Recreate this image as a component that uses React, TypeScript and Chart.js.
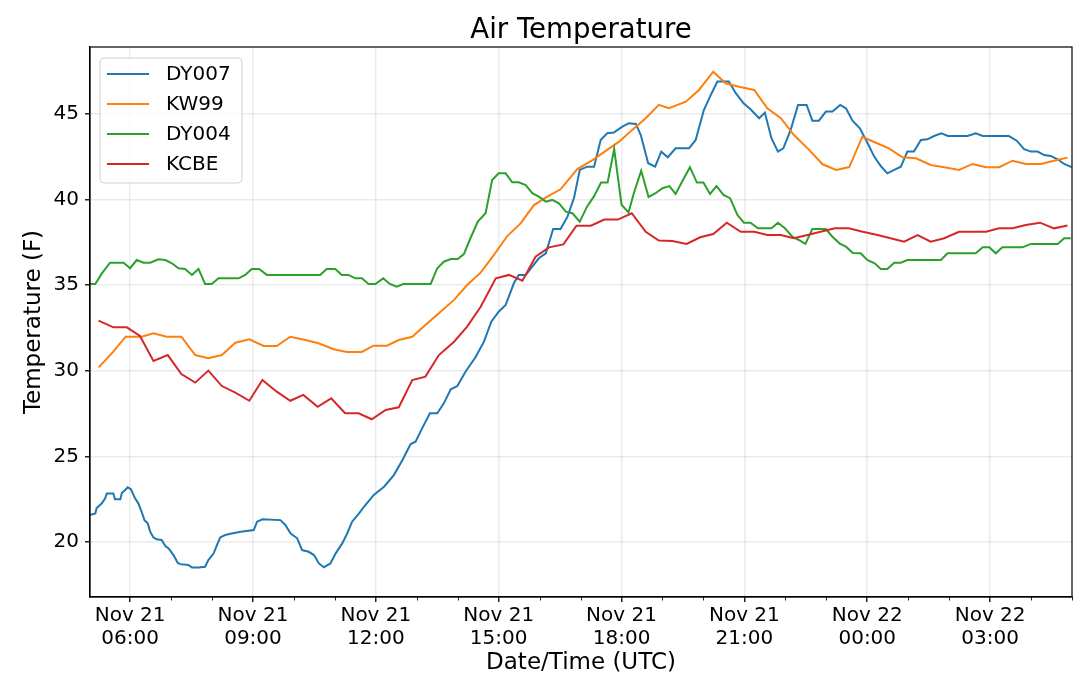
import { useEffect, useRef } from "react"
import { Chart, registerables } from "chart.js"

Chart.register(...registerables)

// horas desde Nov 21 00:00 UTC
const dy007Hours = [
  5.02, 5.15, 5.18, 5.31, 5.39, 5.43, 5.59, 5.63, 5.76, 5.8, 5.88, 5.94, 6.02, 6.12, 6.2, 6.28, 6.35, 6.43,
  6.49, 6.57, 6.65, 6.77, 6.86, 6.94, 7.06, 7.16, 7.22, 7.42, 7.51, 7.67, 7.83, 7.91, 8.04, 8.12, 8.2, 8.32,
  8.48, 8.7, 9.02, 9.1, 9.23, 9.67, 9.79, 9.92, 10.08, 10.2, 10.36, 10.49, 10.61, 10.73, 10.89, 11.02, 11.18,
  11.3, 11.42, 11.59, 11.71, 11.95, 12.2, 12.44, 12.65, 12.85, 12.97, 13.13, 13.32, 13.5, 13.66, 13.83, 13.99,
  14.19, 14.44, 14.64, 14.82, 15.0, 15.17, 15.37, 15.49, 15.66, 15.82, 15.98, 16.15, 16.33, 16.51, 16.68,
  16.84, 16.98, 17.16, 17.33, 17.49, 17.65, 17.81, 18.02, 18.18, 18.35, 18.47, 18.65, 18.82, 18.97, 19.13,
  19.32, 19.65, 19.81, 20.01, 20.18, 20.34, 20.62, 20.79, 20.98, 21.15, 21.36, 21.5, 21.66, 21.82, 21.95,
  22.13, 22.31, 22.52, 22.66, 22.82, 22.99, 23.15, 23.34, 23.48, 23.64, 23.82, 24.01, 24.17, 24.33, 24.49,
  24.66, 24.82, 24.98, 25.14, 25.31, 25.47, 25.63, 25.81, 25.97, 26.45, 26.65, 26.82, 27.46, 27.65, 27.83,
  28.0, 28.16, 28.32, 28.48, 28.65, 28.81, 28.99,
]
const dy007Temps = [
  21.58, 21.67, 21.97, 22.26, 22.55, 22.84, 22.84, 22.5, 22.5, 22.88, 23.04, 23.2, 23.08, 22.55, 22.26, 21.77,
  21.28, 21.09, 20.6, 20.27, 20.16, 20.12, 19.77, 19.63, 19.24, 18.79, 18.71, 18.66, 18.52, 18.52, 18.56,
  18.95, 19.34, 19.82, 20.27, 20.41, 20.5, 20.6, 20.7, 21.19, 21.33, 21.28, 21.0, 20.5, 20.22, 19.53, 19.43,
  19.24, 18.75, 18.52, 18.75, 19.34, 19.92, 20.5, 21.19, 21.67, 22.06, 22.75, 23.23, 23.91, 24.79, 25.72,
  25.86, 26.64, 27.52, 27.52, 28.1, 28.92, 29.11, 29.95, 30.82, 31.7, 32.87, 33.45, 33.84, 35.11, 35.6, 35.6,
  36.08, 36.57, 36.86, 38.28, 38.28, 39.0, 40.1, 41.73, 41.92, 41.92, 43.48, 43.87, 43.91, 44.26, 44.46,
  44.42, 43.77, 42.12, 41.92, 42.8, 42.47, 42.99, 42.99, 43.48, 45.23, 46.11, 46.89, 46.89, 46.21, 45.62,
  45.27, 44.75, 45.08, 43.58, 42.8, 42.99, 44.07, 45.53, 45.53, 44.61, 44.61, 45.14, 45.14, 45.53, 45.33,
  44.61, 44.16, 43.29, 42.51, 41.96, 41.53, 41.73, 41.92, 42.8, 42.8, 43.48, 43.52, 43.71, 43.87, 43.71,
  43.71, 43.87, 43.71, 43.71, 43.44, 42.94, 42.8, 42.8, 42.6, 42.55, 42.35, 42.08, 41.89,
]

const kw99Hours = [
  5.23, 5.59, 5.89, 6.28, 6.57, 6.89, 7.25, 7.59, 7.91, 8.24, 8.57, 8.91, 9.26, 9.58, 9.91, 10.28, 10.6,
  10.97, 11.29, 11.66, 11.94, 12.27, 12.56, 12.89, 13.21, 13.54, 13.91, 14.23, 14.56, 14.88, 15.21, 15.54,
  15.86, 16.19, 16.51, 16.92, 17.29, 17.65, 17.94, 18.26, 18.59, 18.91, 19.16, 19.57, 19.89, 20.24, 20.54,
  20.87, 21.24, 21.56, 21.89, 22.21, 22.58, 22.91, 23.24, 23.56, 23.88, 24.21, 24.53, 24.86, 25.19, 25.55,
  25.88, 26.24, 26.57, 26.9, 27.22, 27.55, 27.87, 28.24, 28.56, 28.89,
]
const kw99Temps = [
  30.2, 31.12, 31.99, 31.99, 32.19, 31.99, 31.99, 30.92, 30.73, 30.92, 31.64, 31.84, 31.45, 31.45, 31.99,
  31.8, 31.61, 31.26, 31.1, 31.1, 31.47, 31.47, 31.8, 31.99, 32.68, 33.36, 34.14, 35.01, 35.73, 36.76, 37.87,
  38.62, 39.68, 40.17, 40.6, 41.78, 42.3, 42.9, 43.38, 44.07, 44.75, 45.53, 45.33, 45.72, 46.4, 47.47, 46.79,
  46.59, 46.4, 45.33, 44.75, 43.77, 42.9, 42.06, 41.73, 41.9, 43.67, 43.32, 42.99, 42.47, 42.41, 42.02,
  41.89, 41.73, 42.08, 41.89, 41.89, 42.27, 42.08, 42.08, 42.27, 42.45,
]

const dy004Hours = [
  5.02, 5.15, 5.31, 5.51, 5.84, 6.0, 6.16, 6.33, 6.49, 6.69, 6.86, 7.02, 7.18, 7.34, 7.51, 7.67, 7.83, 7.99,
  8.16, 8.65, 8.81, 8.97, 9.15, 9.34, 10.64, 10.8, 11.01, 11.17, 11.33, 11.5, 11.66, 11.82, 11.99, 12.18,
  12.34, 12.51, 12.67, 13.34, 13.5, 13.66, 13.83, 14.0, 14.15, 14.31, 14.49, 14.68, 14.84, 15.0, 15.17, 15.33,
  15.49, 15.66, 15.82, 15.98, 16.15, 16.31, 16.47, 16.64, 16.8, 16.98, 17.16, 17.33, 17.5, 17.66, 17.82,
  18.0, 18.17, 18.3, 18.48, 18.66, 18.83, 19.0, 19.17, 19.32, 19.49, 19.67, 19.84, 20.0, 20.16, 20.32, 20.49,
  20.65, 20.83, 20.99, 21.15, 21.33, 21.66, 21.82, 21.99, 22.17, 22.33, 22.49, 22.66, 22.99, 23.15, 23.33,
  23.48, 23.65, 23.84, 24.0, 24.18, 24.33, 24.49, 24.66, 24.82, 24.98, 25.8, 25.96, 26.65, 26.82, 26.98,
  27.14, 27.3, 27.79, 28.0, 28.65, 28.81, 28.97,
]
const dy004Temps = [
  35.07, 35.07, 35.69, 36.31, 36.31, 35.99, 36.47, 36.31, 36.31, 36.51, 36.47, 36.28, 35.99, 35.95, 35.6,
  35.95, 35.07, 35.07, 35.4, 35.4, 35.6, 35.95, 35.95, 35.6, 35.6, 35.95, 35.95, 35.6, 35.6, 35.4, 35.4,
  35.07, 35.07, 35.4, 35.07, 34.91, 35.07, 35.07, 35.99, 36.37, 36.53, 36.53, 36.82, 37.74, 38.71, 39.2,
  41.14, 41.53, 41.53, 41.01, 41.01, 40.85, 40.37, 40.17, 39.88, 39.98, 39.78, 39.29, 39.2, 38.71, 39.6,
  40.2, 40.99, 40.99, 42.95, 39.7, 39.25, 40.37, 41.69, 40.15, 40.37, 40.66, 40.79, 40.33, 41.1, 41.89, 40.99,
  40.99, 40.33, 40.79, 40.27, 40.08, 39.1, 38.65, 38.65, 38.32, 38.32, 38.65, 38.32, 37.83, 37.64, 37.41,
  38.28, 38.28, 37.83, 37.43, 37.25, 36.88, 36.86, 36.47, 36.28, 35.95, 35.95, 36.31, 36.31, 36.47, 36.47,
  36.86, 36.86, 37.21, 37.21, 36.86, 37.21, 37.21, 37.41, 37.41, 37.74, 37.74,
]

const kcbeHours = [
  5.23, 5.59, 5.92, 6.24, 6.57, 6.92, 7.25, 7.59, 7.91, 8.24, 8.57, 8.91, 9.23, 9.58, 9.91, 10.23, 10.58,
  10.91, 11.25, 11.58, 11.9, 12.24, 12.56, 12.89, 13.21, 13.54, 13.91, 14.23, 14.56, 14.93, 15.25, 15.58,
  15.9, 16.23, 16.58, 16.9, 17.25, 17.58, 17.91, 18.25, 18.59, 18.91, 19.24, 19.59, 19.92, 20.24, 20.57,
  20.91, 21.24, 21.56, 21.89, 22.21, 22.54, 22.86, 23.21, 23.55, 23.89, 24.25, 24.57, 24.9, 25.23, 25.55,
  25.88, 26.24, 26.57, 26.9, 27.22, 27.55, 27.87, 28.22, 28.56, 28.89,
]
const kcbeTemps = [
  32.93, 32.54, 32.54, 32.03, 30.57, 30.92, 29.81, 29.31, 30.01, 29.11, 28.72, 28.25, 29.46, 28.78, 28.25,
  28.59, 27.9, 28.39, 27.52, 27.52, 27.17, 27.71, 27.87, 29.46, 29.66, 30.92, 31.7, 32.58, 33.74, 35.4, 35.6,
  35.26, 36.66, 37.21, 37.38, 38.47, 38.47, 38.83, 38.83, 39.2, 38.12, 37.61, 37.58, 37.41, 37.8, 37.99,
  38.65, 38.12, 38.12, 37.93, 37.93, 37.74, 37.93, 38.12, 38.32, 38.32, 38.12, 37.93, 37.74, 37.54, 37.93,
  37.54, 37.74, 38.12, 38.12, 38.12, 38.32, 38.32, 38.52, 38.65, 38.32, 38.48,
]

const seriesNames = ["DY007", "KW99", "DY004", "KCBE"]
const seriesColors = ["#1f77b4", "#ff7f0e", "#2ca02c", "#d62728"]
const seriesHours = [dy007Hours, kw99Hours, dy004Hours, kcbeHours]
const seriesTemps = [dy007Temps, kw99Temps, dy004Temps, kcbeTemps]

const yTicks = [20, 25, 30, 35, 40, 45]
const xMajorTicks = [6, 9, 12, 15, 18, 21, 24, 27]

const FONT = "'DejaVu Sans', sans-serif"

function tickLabel(h: number) {
  const day = h < 24 ? "Nov 21" : "Nov 22"
  const hh = String(h % 24).padStart(2, "0")
  return [day, hh + ":00"]
}

// moldura, ticks menores, título e legenda no estilo matplotlib
const decorPlugin = {
  id: "decor",
  afterDraw(chart: any) {
    const { ctx, chartArea } = chart
    const { left, right, top, bottom } = chartArea
    const xScale = chart.scales.x
    ctx.save()

    // ticks menores (a cada hora)
    ctx.strokeStyle = "#222"
    ctx.lineWidth = 1
    for (let h = Math.ceil(xScale.min); h <= xScale.max; h++) {
      if (h % 3 === 0) continue
      const px = Math.round(xScale.getPixelForValue(h)) + 0.5
      ctx.beginPath()
      ctx.moveTo(px, bottom)
      ctx.lineTo(px, bottom + 3.5)
      ctx.stroke()
    }

    // moldura completa
    ctx.strokeStyle = "#000"
    ctx.lineWidth = 1.2
    ctx.strokeRect(left, top, right - left, bottom - top)

    // título
    ctx.fillStyle = "#000"
    ctx.font = `27.6px ${FONT}`
    ctx.textAlign = "center"
    ctx.textBaseline = "alphabetic"
    ctx.fillText("Air Temperature", (left + right) / 2, 38)

    // legenda
    const bx = left + 10
    const by = top + 11
    const bw = 142
    const bh = 125
    ctx.fillStyle = "rgba(255,255,255,0.8)"
    ctx.strokeStyle = "#d0d0d0"
    ctx.lineWidth = 1
    ctx.beginPath()
    ctx.roundRect(bx, by, bw, bh, 4)
    ctx.fill()
    ctx.stroke()
    ctx.font = `20px ${FONT}`
    ctx.textAlign = "left"
    ctx.textBaseline = "middle"
    seriesNames.forEach((name, i) => {
      const y = by + 16 + i * 30
      ctx.strokeStyle = seriesColors[i]
      ctx.lineWidth = 2
      ctx.beginPath()
      ctx.moveTo(bx + 7, y)
      ctx.lineTo(bx + 49, y)
      ctx.stroke()
      ctx.fillStyle = "#000"
      ctx.fillText(name, bx + 66, y + 1)
    })

    ctx.restore()
  },
}

export default function App() {
  const chartRef = useRef<HTMLCanvasElement>(null)
  const chartInstance = useRef<Chart | null>(null)

  useEffect(() => {
    document.body.style.margin = "0"
    if (!chartRef.current) return
    if (chartInstance.current) chartInstance.current.destroy()
    const ctx = chartRef.current.getContext("2d")
    if (!ctx) return

    const datasets = seriesNames.map((name, i) => ({
      label: name,
      data: seriesHours[i].map((h, j) => ({ x: h, y: seriesTemps[i][j] })),
      borderColor: seriesColors[i],
      backgroundColor: seriesColors[i],
      borderWidth: 2,
      pointRadius: 0,
      tension: 0,
      order: 4 - i,
    }))

    chartInstance.current = new Chart(ctx, {
      type: "line",
      data: { datasets },
      plugins: [decorPlugin],
      options: {
        responsive: true,
        maintainAspectRatio: false,
        animation: false,
        layout: { padding: { top: 47, right: 8, bottom: 0, left: 0 } },
        plugins: {
          legend: { display: false },
          title: { display: false },
          tooltip: { enabled: false },
        },
        scales: {
          x: {
            type: "linear",
            min: 5.02,
            max: 29.0,
            afterBuildTicks: (scale: any) => {
              scale.ticks = xMajorTicks.map((v) => ({ value: v }))
            },
            afterFit: (scale: any) => {
              scale.height = 99
            },
            ticks: {
              color: "#000",
              font: { family: FONT, size: 20, lineHeight: 1.165 },
              padding: 2,
              maxRotation: 0,
              autoSkip: false,
              callback: (v: any) => tickLabel(Number(v)),
            },
            grid: {
              color: "rgba(0,0,0,0.08)",
              lineWidth: 1.5,
              tickColor: "#222",
              tickLength: 5,
            },
            border: { display: true, color: "#000", width: 1.2 },
            title: {
              display: true,
              text: "Date/Time (UTC)",
              color: "#000",
              font: { family: FONT, size: 23 },
              padding: { top: 0, bottom: 19 },
            },
          },
          y: {
            min: 16.79,
            max: 48.91,
            afterBuildTicks: (scale: any) => {
              scale.ticks = yTicks.map((v) => ({ value: v }))
            },
            afterFit: (scale: any) => {
              scale.width = 90
            },
            ticks: {
              color: "#000",
              font: { family: FONT, size: 20 },
              padding: 6,
            },
            grid: {
              color: "rgba(0,0,0,0.08)",
              lineWidth: 1.5,
              tickColor: "#222",
              tickLength: 5,
            },
            border: { display: true, color: "#000", width: 1.2 },
            title: {
              display: true,
              text: "Temperature (F)",
              color: "#000",
              font: { family: FONT, size: 23 },
              padding: { top: 20, bottom: 0 },
            },
          },
        },
      },
    })

    return () => {
      if (chartInstance.current) {
        chartInstance.current.destroy()
        chartInstance.current = null
      }
    }
  }, [])

  return (
    <div style={{ position: "relative", width: 1080, height: 696 }}>
      <canvas ref={chartRef} />
    </div>
  )
}
